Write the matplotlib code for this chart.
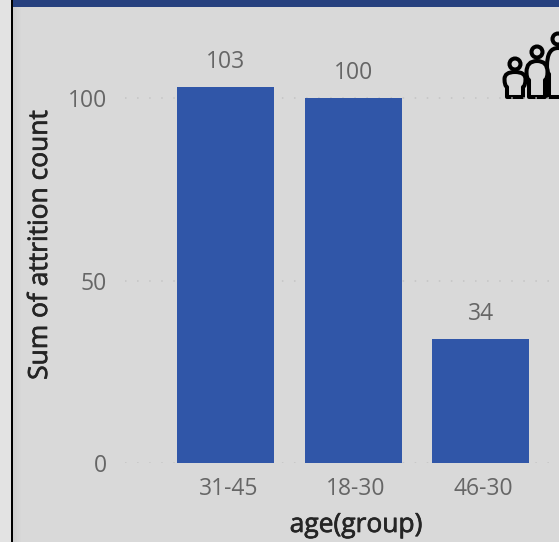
import matplotlib
matplotlib.use("Agg")
import matplotlib.pyplot as plt
import matplotlib.patheffects as pe
from matplotlib.patches import Rectangle, Circle, PathPatch
from matplotlib.path import Path
from matplotlib.transforms import ScaledTranslation

age_groups = ["31-45", "18-30", "46-30"]
attrition = [103, 100, 34]
y_ticks = [0, 50, 100]

W, H = 559, 542
plt.rcParams['font.family'] = ['Open Sans', 'DejaVu Sans']
fig = plt.figure(figsize=(W/100, H/100), dpi=100, facecolor='#d9d9d9')

# page furniture in pixel coordinates
bg = fig.add_axes([0, 0, 1, 1], zorder=0)
bg.set_xlim(0, W); bg.set_ylim(H, 0); bg.axis('off')
bg.add_patch(Rectangle((0, 0), 11, H, color='#e3e3e3', lw=0))
bg.add_patch(Rectangle((11, 0), 2, H, color='black', lw=0))
for i, c in enumerate(['#cfcfcf', '#d2d2d2', '#d5d5d5', '#d7d7d7']):
    bg.add_patch(Rectangle((13+i*2, 7), 2, H, color=c, lw=0))
bg.add_patch(Rectangle((13, 0), W-13, 7, color='#27417f', lw=0))

# chart
L, R, B, T = 125, W, 463.3, 20
ax = fig.add_axes([L/W, 1-B/H, (R-L)/W, (B-T)/H], zorder=1)
ax.patch.set_alpha(0)
px_per_cat = 127.5
x0 = 225.7
ax.set_xlim((L-x0)/px_per_cat, (R-x0)/px_per_cat)
ax.set_ylim(0, (B-T)/3.655)
x = list(range(len(age_groups)))
ax.bar(x, attrition, width=0.76, color='#3056a8', zorder=3)
for xi, v in zip(x, attrition):
    ax.annotate(str(v), (xi, v), xytext=(0, 13), textcoords='offset pixels',
                ha='center', va='bottom', fontsize=16.5, color='#666666')
ax.set_xticks(x, age_groups)
ax.set_yticks(y_ticks)
ax.tick_params(axis='both', length=0, labelsize=16.5, labelcolor='#666666')
ax.tick_params(axis='x', pad=10)
ax.tick_params(axis='y', pad=13)
shift = ScaledTranslation(2.5/100, 0, fig.dpi_scale_trans)
for lab in ax.get_xticklabels():
    lab.set_transform(lab.get_transform() + shift)
ax.yaxis.grid(True, color='#c4c4c4', lw=1.1, linestyle=(0, (1, 6.9)), zorder=1)
ax.set_axisbelow(True)
for s in ax.spines.values():
    s.set_visible(False)
bold = [pe.withStroke(linewidth=0.5, foreground='#252525')]
fig.text(40.5/W, 1-245/H, "Sum of attrition count", rotation=90, ha='center', va='center',
         fontsize=19, color='#252525', path_effects=bold)
fig.text(356/W, 1-525.5/H, "age(group)", ha='center', va='center', fontsize=19,
         color='#252525', path_effects=bold)

# family icon
def person(cx, head_y, head_r, top, step, bot, half, leg):
    verts = [(cx-leg, bot), (cx-leg, step+2), (cx-half, step+1), (cx-half, step-6),
             (cx-half, top), (cx, top), (cx+half, top), (cx+half, step-6),
             (cx+half, step+1), (cx+leg, step+2), (cx+leg, bot), (cx-leg, bot)]
    codes = [Path.MOVETO, Path.LINETO, Path.CURVE3, Path.CURVE3,
             Path.CURVE3, Path.CURVE3, Path.CURVE3, Path.CURVE3,
             Path.CURVE3, Path.CURVE3, Path.LINETO, Path.CLOSEPOLY]
    bg.add_patch(PathPatch(Path(verts, codes), fc='#d9d9d9', ec='black', lw=2.9,
                           joinstyle='round', zorder=5))
    bg.add_patch(Circle((cx, head_y), head_r, fc='#d9d9d9', ec='black', lw=2.9, zorder=5))

person(558, 39, 5.5, 48, 72, 97, 11, 9)
person(537, 52, 5.5, 61, 78, 97, 10.5, 8)
person(515, 64, 5.5, 72, 85, 97, 10.5, 8)
bg.set_xlim(0, W); bg.set_ylim(H, 0)

fig.savefig("out.png", dpi=100, facecolor=fig.get_facecolor())
